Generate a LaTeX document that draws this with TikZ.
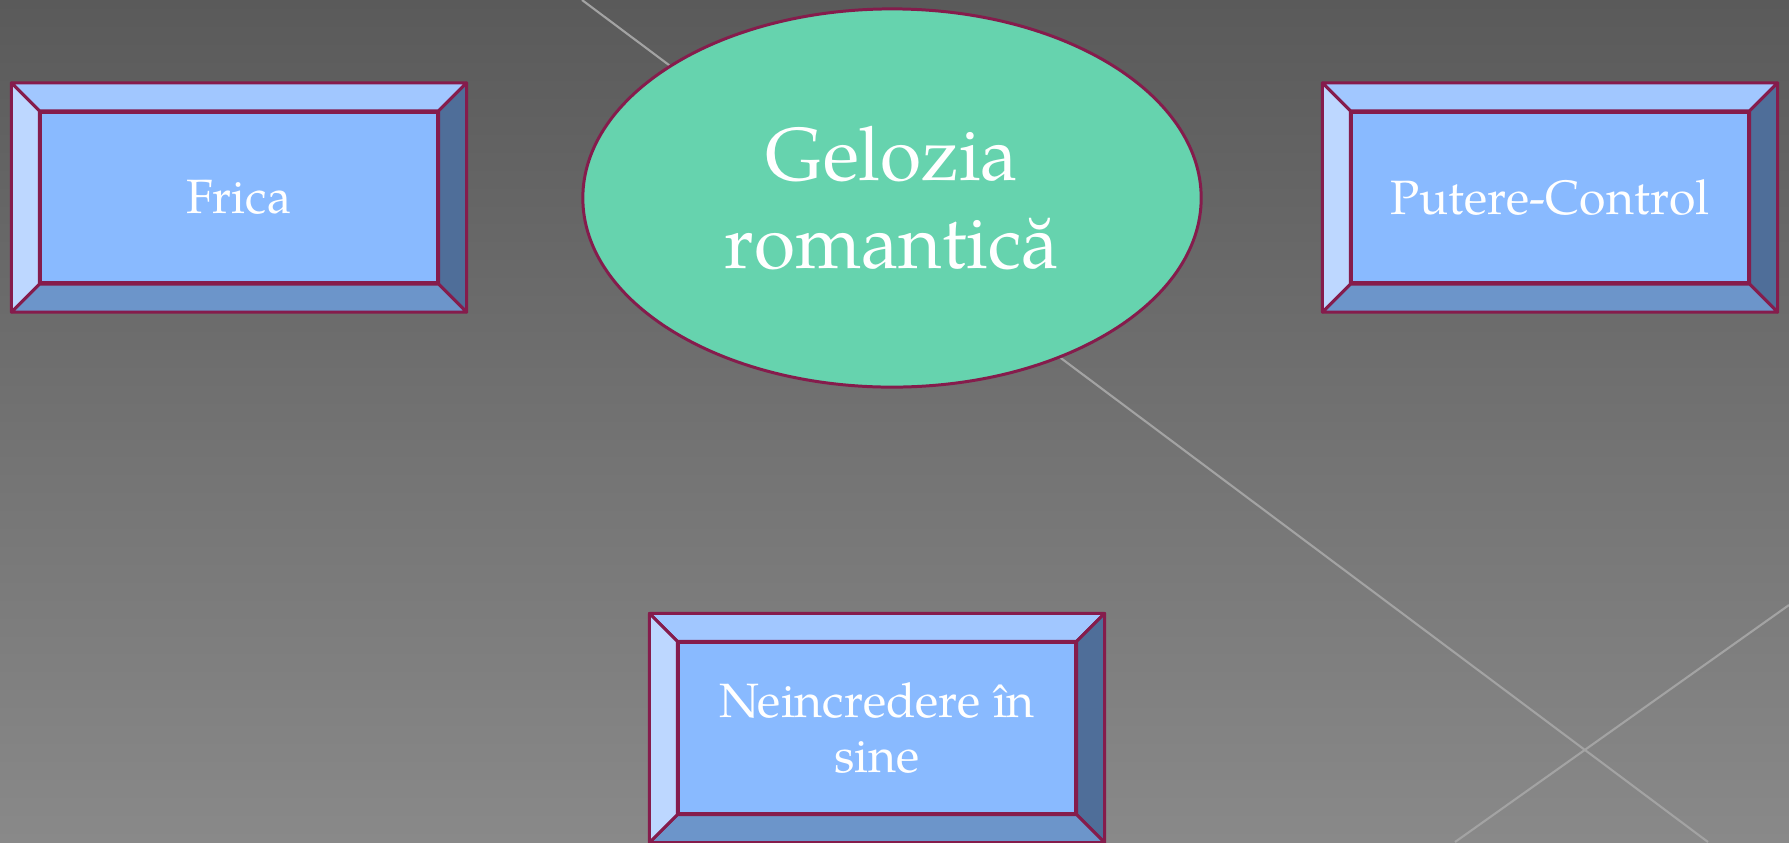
\documentclass[tikz,border=0pt]{standalone}
\usepackage{fontspec}
\setmainfont{texgyrepagella-regular.otf}
\usetikzlibrary{shapes.geometric}
\definecolor{edgered}{RGB}{133,28,76}
\definecolor{facefill}{RGB}{137,186,255}
\definecolor{bevtop}{RGB}{161,199,255}
\definecolor{bevleft}{RGB}{189,215,255}
\definecolor{bevright}{RGB}{79,110,153}
\definecolor{bevbottom}{RGB}{108,149,202}
\definecolor{eggfill}{RGB}{102,211,174}
\definecolor{bgtop}{RGB}{90,90,90}
\definecolor{bgbot}{RGB}{137,137,137}
\definecolor{streak}{RGB}{163,163,163}
\tikzset{
  facebox/.style={draw=edgered,line width=0.85pt,fill=facefill,minimum width=3.96cm,
    minimum height=1.70cm,inner sep=0pt,text=white,align=center,
    font=\fontsize{13.7}{15.9}\selectfont},
  bevel/.style={draw=edgered,line width=0.85pt,line join=round},
  egg/.style={ellipse,draw=edgered,line width=0.85pt,fill=eggfill,minimum width=6.18cm,
    minimum height=3.78cm,inner sep=0pt,text=white,align=center,
    font=\fontsize{21.3}{25}\selectfont},
  streakline/.style={streak,line width=0.6pt}
}
\newcommand{\bevelbox}[3]{%
  \node[facebox] (#1) at (#2) {#3};
  \filldraw[bevel,fill=bevtop] (#1.north west) -- ([shift={(-0.28cm,0.28cm)}]#1.north west)
    -- ([shift={(0.28cm,0.28cm)}]#1.north east) -- (#1.north east) -- cycle;
  \filldraw[bevel,fill=bevright] (#1.north east) -- ([shift={(0.28cm,0.28cm)}]#1.north east)
    -- ([shift={(0.28cm,-0.28cm)}]#1.south east) -- (#1.south east) -- cycle;
  \filldraw[bevel,fill=bevbottom] (#1.south east) -- ([shift={(0.28cm,-0.28cm)}]#1.south east)
    -- ([shift={(-0.28cm,-0.28cm)}]#1.south west) -- (#1.south west) -- cycle;
  \filldraw[bevel,fill=bevleft] (#1.south west) -- ([shift={(-0.28cm,-0.28cm)}]#1.south west)
    -- ([shift={(-0.28cm,0.28cm)}]#1.north west) -- (#1.north west) -- cycle;
}
\begin{document}
\begin{tikzpicture}[x=0.01cm,y=-0.01cm]
  \shade[top color=bgtop,bottom color=bgbot] (0,0) rectangle (1789,842);
  \useasboundingbox (0,0) rectangle (1789,842);
  \draw[streakline] (582,0) -- (1708,842);
  \draw[streakline] (1789,605) -- (1455,842);
  \node[egg] (gelozia) at (892,198) {Gelozia\\romantică};
  \bevelbox{frica}{239,197.5}{Frica}
  \bevelbox{putere}{1550,197.5}{Putere-Control}
  \bevelbox{neincredere}{877,728}{Neincredere în\\sine}
\end{tikzpicture}
\end{document}
